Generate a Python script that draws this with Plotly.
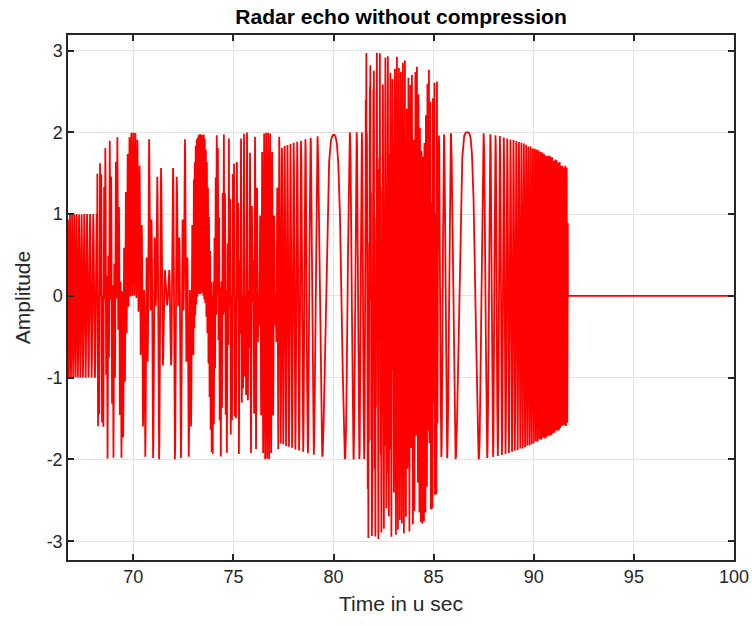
import numpy as np
import plotly.graph_objects as go

# Linear-FM returns that make up the received echo (times in microseconds)
echo_amp    = [1.0, 1.0, 1.0, 1.0, 1.0, 1.0, 1.0]
echo_rate   = [3.0, 3.0, 3.0, 3.0, 3.0, 3.0, 3.0]       # chirp slope, MHz per microsecond
echo_center = [70.0, 73.37, 80.0, 80.0127, 93.33, 86.67, 86.684]
echo_phase  = [0.0, 0.0, 0.0, 0.24, 0.0, 0.0, 0.0]      # radians
echo_start  = [60.0, 68.2, 73.0, 77.3, 81.6, 85.2, 85.2]
echo_stop   = [73.0, 77.3, 85.2, 85.2, 85.2, 91.7, 91.7]

# receive window and sample spacing
t_first, t_last, t_step = 66.74, 100.0, 0.005

x_ticks = [70, 75, 80, 85, 90, 95, 100]
y_ticks = [-3, -2, -1, 0, 1, 2, 3]

t = t_first + t_step * np.arange(int(round((t_last - t_first) / t_step)) + 1)

# sum of gated chirps (real part)
y = np.zeros_like(t)
for a, k, c, p, s, e in zip(echo_amp, echo_rate, echo_center, echo_phase,
                            echo_start, echo_stop):
    gate = (t >= s) & (t < e)
    y += np.where(gate, a * np.cos(np.pi * k * (t - c) ** 2 + p), 0.0)

font_main = "Liberation Sans, Arial, Helvetica, sans-serif"
ink = "#262626"

fig = go.Figure()
fig.add_trace(go.Scatter(x=t, y=y, mode="lines",
                         line=dict(color="#ff0000", width=1.8),
                         hoverinfo="skip", showlegend=False))

axis_common = dict(showgrid=True, gridcolor="#e3e3e3", gridwidth=1,
                   zeroline=False, showline=True, linecolor=ink, linewidth=1.5,
                   mirror="ticks", ticks="inside", ticklen=6, tickcolor=ink,
                   tickwidth=1.5, automargin=False,
                   tickfont=dict(family=font_main, size=18, color=ink))

fig.update_layout(
    width=752, height=626,
    margin=dict(l=68, r=18, t=35, b=66),
    paper_bgcolor="white", plot_bgcolor="white",
    title=dict(text="<b>Radar echo without compression</b>",
               x=0.5333, xanchor="center", y=0.973, yanchor="middle",
               font=dict(family=font_main, size=21, color="#000000")),
    xaxis=dict(range=[66.74, 100], tickvals=x_ticks,
               ticktext=[str(v) for v in x_ticks],
               title=dict(text="Time in u sec", standoff=10,
                          font=dict(family=font_main, size=21, color=ink)),
               **axis_common),
    yaxis=dict(range=[-3.23, 3.19], tickvals=y_ticks,
               ticktext=[str(v) for v in y_ticks],
               title=dict(text="Amplitude", standoff=10,
                          font=dict(family=font_main, size=21, color=ink)),
               **axis_common),
)

fig.write_html("out.html")
